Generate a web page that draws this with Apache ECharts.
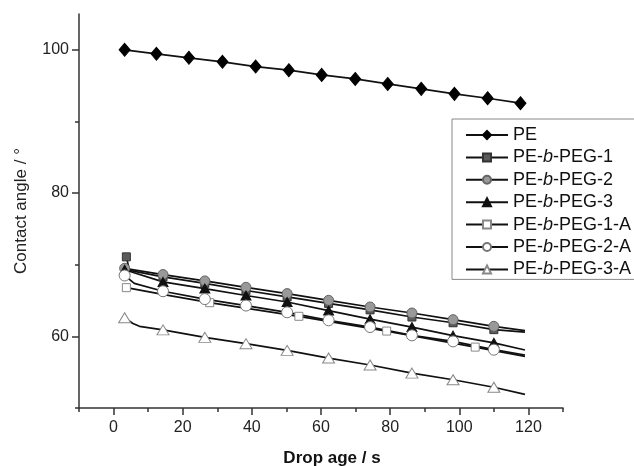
<!DOCTYPE html>
<html><head><meta charset="utf-8">
<script src="https://cdn.jsdelivr.net/npm/echarts@6/dist/echarts.min.js"></script>
<style>html,body{margin:0;padding:0;background:#fff}#c{width:634px;height:466px}</style>
</head><body><div id="c"></div>
<script>
const seriesNames = ['PE','PE-b-PEG-1','PE-b-PEG-2','PE-b-PEG-3','PE-b-PEG-1-A','PE-b-PEG-2-A','PE-b-PEG-3-A'];
const xTickLabels = [0,20,40,60,80,100,120];
const yTickLabels = [60,80,100];

// PE
const pe_x = [3.2,12.4,21.8,31.5,41.1,50.7,60.2,69.9,79.3,89.0,98.6,108.2,117.7];
const pe_y = [100,99.44,98.88,98.32,97.66,97.16,96.5,95.94,95.24,94.55,93.85,93.24,92.55];
const pe_m = [1,1,1,1,1,1,1,1,1,1,1,1,1];
// PE-b-PEG-1
const p1_x = [3.7,4.6,14.3,26.4,38.3,50.2,62.2,74.2,86.3,98.2,110,119];
const p1_y = [71.1,69.2,68.3,67.4,66.4,65.5,64.6,63.7,62.7,61.9,60.94,60.6];
const p1_m = [1,0,1,1,1,1,1,1,1,1,1,0];
// PE-b-PEG-2
const p2_x = [3.2,14.3,26.4,38.3,50.2,62.2,74.2,86.3,98.2,110,119];
const p2_y = [69.5,68.63,67.74,66.85,65.97,65.03,64.1,63.26,62.33,61.4,60.8];
const p2_m = [1,1,1,1,1,1,1,1,1,1,0];
// PE-b-PEG-3
const p3_x = [3.2,14.3,26.4,38.3,50.2,62.2,74.2,86.3,98.2,110,119];
const p3_y = [69.3,67.6,66.67,65.7,64.8,63.6,62.4,61.3,60.1,59.1,58.1];
const p3_m = [1,1,1,1,1,1,1,1,1,1,0];
// PE-b-PEG-1-A
const a1_x = [3.7,15,27.8,53.6,79,104.6,119];
const a1_y = [66.8,65.8,64.7,62.8,60.74,58.5,57.2];
const a1_m = [1,0,1,1,1,1,0];
// PE-b-PEG-2-A
const a2_x = [3.2,6,14.3,26.4,38.3,50.2,62.2,74.2,86.3,98.2,110,119];
const a2_y = [68.5,67.4,66.3,65.2,64.3,63.36,62.24,61.3,60.14,59.3,58.14,57.4];
const a2_m = [1,0,1,1,1,1,1,1,1,1,1,0];
// PE-b-PEG-3-A
const a3_x = [3.2,5.6,7.5,14.3,26.4,38.3,50.2,62.2,74.2,86.3,98.2,110,119];
const a3_y = [62.6,61.8,61.4,60.9,59.86,58.98,58.04,56.97,56.0,54.87,53.94,52.9,51.9];
const a3_m = [1,0,0,1,1,1,1,1,1,1,1,1,0];

function mk(xs, ys, ms) {
  return xs.map((x, i) => ms[i] ? [x, ys[i]] : { value: [x, ys[i]], symbol: 'none' });
}
const FONT = "'Liberation Sans', Arial, sans-serif";
const styles = [
  { symbol: 'diamond', size: [11, 13], fill: '#000', border: '#000' },
  { symbol: 'rect', size: 8, fill: '#5a5a5a', border: '#333' },
  { symbol: 'circle', size: 10, fill: '#999', border: '#666' },
  { symbol: 'triangle', size: [10, 9], fill: '#111', border: '#111' },
  { symbol: 'rect', size: 8, fill: '#fff', border: '#888' },
  { symbol: 'circle', size: 11, fill: '#fff', border: '#777' },
  { symbol: 'triangle', size: [12, 10], fill: '#fff', border: '#888' }
];
const datas = [
  mk(pe_x, pe_y, pe_m), mk(p1_x, p1_y, p1_m), mk(p2_x, p2_y, p2_m), mk(p3_x, p3_y, p3_m),
  mk(a1_x, a1_y, a1_m), mk(a2_x, a2_y, a2_m), mk(a3_x, a3_y, a3_m)
];
const series = seriesNames.map((n, i) => ({
  name: n, type: 'line', xAxisIndex: 0, yAxisIndex: 0,
  data: datas[i], symbol: styles[i].symbol, symbolSize: styles[i].size,
  showAllSymbol: true, animation: false,
  lineStyle: { color: '#111', width: 1.7 },
  itemStyle: { color: styles[i].fill, borderColor: styles[i].border, borderWidth: 1 },
  emphasis: { disabled: true }
}));

const chart = echarts.init(document.getElementById('c'), null, { renderer: 'canvas' });
chart.setOption({
  backgroundColor: '#fff',
  animation: false,
  grid: { left: 79, right: 71, top: 14, bottom: 58, containLabel: false, outerBoundsMode: 'none' },
  legend: {
    data: seriesNames, orient: 'vertical', left: 452, top: 119,
    itemWidth: 42, itemHeight: 10, itemGap: 4.4,
    padding: [7, 30, 1, 13], borderColor: '#888', borderWidth: 1, backgroundColor: '#fff',
    formatter: n => n.replace('-b-', '-{i|b}-'),
    textStyle: { fontSize: 18, color: '#111', fontFamily: FONT, lineHeight: 18,
      rich: { i: { fontStyle: 'italic', fontSize: 18, fontFamily: FONT, color: '#111', lineHeight: 18 } } }
  },
  xAxis: [
    { type: 'value', min: -10, max: 130, gridIndex: 0,
      name: 'Drop age / s', nameLocation: 'middle', nameGap: 42,
      nameTextStyle: { fontSize: 17, fontWeight: 'bold', color: '#111', fontFamily: FONT, padding: [0, 0, 0, 22] },
      axisLine: { show: true, onZero: false, lineStyle: { color: '#333', width: 1.5 } },
      axisTick: { show: true, length: 7, customValues: xTickLabels, lineStyle: { color: '#333', width: 1.5 } },
      axisLabel: { customValues: xTickLabels, fontSize: 16, color: '#222', fontFamily: FONT, margin: 12 },
      splitLine: { show: false } },
    { type: 'value', min: -10, max: 130, gridIndex: 0, position: 'bottom',
      axisLine: { show: false, onZero: false },
      axisTick: { show: true, length: 4, customValues: [-10,10,30,50,70,90,110,130], lineStyle: { color: '#333', width: 1.5 } },
      axisLabel: { show: false }, splitLine: { show: false } }
  ],
  yAxis: [
    { type: 'value', min: 50, max: 105, gridIndex: 0,
      name: 'Contact angle / °', nameLocation: 'middle', nameGap: 49,
      nameTextStyle: { fontSize: 17, color: '#222', fontFamily: FONT },
      axisLine: { show: true, onZero: false, lineStyle: { color: '#333', width: 1.5 } },
      axisTick: { show: true, length: 7, customValues: yTickLabels, lineStyle: { color: '#333', width: 1.5 } },
      axisLabel: { customValues: yTickLabels, fontSize: 16, color: '#222', fontFamily: FONT, margin: 10 },
      splitLine: { show: false } },
    { type: 'value', min: 50, max: 105, gridIndex: 0, position: 'left',
      axisLine: { show: false, onZero: false },
      axisTick: { show: true, length: 4, customValues: [50,70,90], lineStyle: { color: '#333', width: 1.5 } },
      axisLabel: { show: false }, splitLine: { show: false } }
  ],
  series: series
});
</script></body></html>
